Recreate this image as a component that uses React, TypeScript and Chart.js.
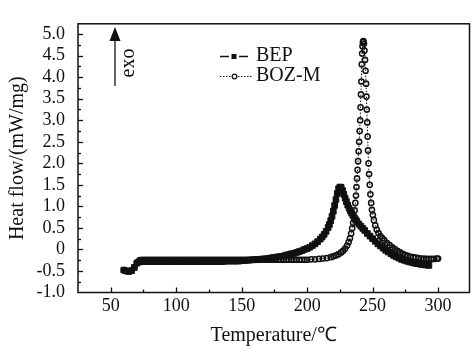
import React, { useEffect, useRef } from 'react';
import { Chart, registerables } from 'chart.js';

Chart.register(...registerables);

const SERIES_LABELS = ['BEP', 'BOZ-M'];
const X_TITLE = 'Temperature/℃';
const Y_TITLE = 'Heat flow/(mW/mg)';
const ANNOTATION = 'exo';

const X_MIN = 25;
const X_MAX = 324;
const Y_MIN = -1;
const Y_MAX = 5.24;
const X_TICKS = [50, 100, 150, 200, 250, 300];
const X_MINOR = [75, 125, 175, 225, 275];
const Y_TICKS = [-1, -0.5, 0, 0.5, 1, 1.5, 2, 2.5, 3, 3.5, 4, 4.5, 5];
const Y_MINOR = [-0.75, -0.25, 0.25, 0.75, 1.25, 1.75, 2.25, 2.75, 3.25, 3.75, 4.25, 4.75];

// [temperature (°C), heat flow (mW/mg)]
const BEP_DATA: [number, number][] = [
  [60, -0.48], [62, -0.5], [64, -0.51], [66, -0.49], [68, -0.42], [70, -0.32], [72, -0.29],
  [74, -0.28], [76, -0.28], [78, -0.28], [80, -0.28], [82, -0.28], [84, -0.28], [86, -0.28], [88, -0.28], [90, -0.28],
  [92, -0.28], [94, -0.28], [96, -0.28], [98, -0.28], [100, -0.28], [102, -0.28], [104, -0.28], [106, -0.28], [108, -0.28], [110, -0.28],
  [112, -0.28], [114, -0.28], [116, -0.28], [118, -0.28], [120, -0.28], [122, -0.28], [124, -0.28], [126, -0.28], [128, -0.28], [130, -0.28],
  [132, -0.28], [134, -0.28], [136, -0.28], [138, -0.27], [140, -0.27], [142, -0.27], [144, -0.27], [146, -0.27], [148, -0.27], [150, -0.26],
  [152, -0.26], [154, -0.25], [156, -0.25], [158, -0.24], [160, -0.24], [162, -0.23], [164, -0.23], [166, -0.22], [168, -0.22], [170, -0.21],
  [172, -0.2], [174, -0.19], [176, -0.18], [178, -0.17], [180, -0.16], [182, -0.15], [184, -0.13], [186, -0.12], [188, -0.1], [190, -0.09],
  [192, -0.07], [194, -0.05], [196, -0.03], [198, 0.0], [200, 0.02], [202, 0.05], [204, 0.09], [206, 0.13], [208, 0.18], [210, 0.24],
  [211.5, 0.29], [213, 0.35], [214.5, 0.42], [216, 0.51], [217, 0.58], [218, 0.67], [219, 0.77], [220, 0.89], [221, 1.02], [222, 1.16],
  [223, 1.3], [224, 1.41], [225, 1.45], [226, 1.44], [227, 1.37], [228, 1.28], [229, 1.19], [230, 1.11], [231, 1.03], [232, 0.96],
  [233, 0.9], [234, 0.84], [235, 0.79], [236, 0.74], [237, 0.69], [238, 0.65], [239.5, 0.59], [241, 0.54], [242.5, 0.49], [244, 0.44],
  [246, 0.37], [248, 0.31], [250, 0.25], [252, 0.19], [254, 0.13], [256, 0.08], [258, 0.03], [260, -0.02], [262, -0.06], [264, -0.1],
  [266, -0.14], [268, -0.17], [270, -0.2], [272, -0.23], [274, -0.25], [276, -0.27], [278, -0.29], [280, -0.3], [282, -0.32], [284, -0.33],
  [286, -0.34], [288, -0.35], [290, -0.36], [292, -0.36], [293, -0.37],
];

const BOZ_DATA: [number, number][] = [
  [60, -0.48], [62, -0.5], [64, -0.51], [66, -0.49], [68, -0.41], [70, -0.3], [72, -0.25],
  [74, -0.24], [76, -0.24], [78, -0.24], [80, -0.24], [82, -0.24], [84, -0.24], [86, -0.24], [88, -0.24], [90, -0.24],
  [92, -0.24], [94, -0.24], [96, -0.24], [98, -0.24], [100, -0.24], [102, -0.24], [104, -0.24], [106, -0.24], [108, -0.24], [110, -0.24],
  [112, -0.24], [114, -0.24], [116, -0.24], [118, -0.24], [120, -0.24], [122, -0.24], [124, -0.24], [126, -0.24], [128, -0.24], [130, -0.24],
  [132, -0.24], [134, -0.24], [136, -0.24], [138, -0.24], [140, -0.24], [142, -0.24], [144, -0.24], [146, -0.24], [148, -0.24], [150, -0.24],
  [152, -0.24], [154, -0.24], [156, -0.24], [158, -0.24], [160, -0.24], [162, -0.24], [164, -0.24], [166, -0.24], [168, -0.24], [170, -0.24],
  [172, -0.24], [174, -0.24], [176, -0.24], [178, -0.24], [180, -0.24], [182, -0.24], [184, -0.24], [186, -0.24], [188, -0.24], [190, -0.24],
  [192, -0.24], [194, -0.24], [196, -0.24], [198, -0.24], [200, -0.24], [203, -0.23], [206, -0.23], [209, -0.22], [212, -0.21], [215, -0.2],
  [218, -0.18], [220, -0.16], [222, -0.14], [224, -0.11], [226, -0.07], [227.5, -0.03], [229, 0.02], [230.5, 0.09], [231.7, 0.17], [232.7, 0.26],
  [233.6, 0.37], [234.4, 0.49], [235.1, 0.62], [235.7, 0.76], [236.3, 0.91], [236.8, 1.08], [237.3, 1.25], [237.7, 1.45], [238.1, 1.65], [238.5, 1.85],
  [238.9, 2.05], [239.3, 2.28], [239.7, 2.5], [240.1, 2.75], [240.5, 3.0], [240.8, 3.3], [241.1, 3.6], [241.4, 3.9], [241.7, 4.3], [242, 4.55],
  [242.3, 4.72], [242.6, 4.82], [243, 4.84], [243.4, 4.78], [243.8, 4.62], [244.2, 4.4], [244.6, 4.15], [245, 3.85], [245.3, 3.55], [245.6, 3.25],
  [245.9, 2.95], [246.2, 2.62], [246.5, 2.3], [246.9, 2.0], [247.3, 1.75], [247.8, 1.5], [248.3, 1.28], [248.9, 1.08], [249.5, 0.92], [250.2, 0.8],
  [251, 0.68], [252, 0.56], [253.2, 0.46], [254.5, 0.38], [256, 0.31], [257.5, 0.26], [259, 0.21], [261, 0.15], [263, 0.1], [265, 0.05],
  [267, 0.01], [269, -0.03], [271, -0.07], [273, -0.1], [275, -0.13], [277, -0.15], [279, -0.17], [281, -0.18], [283, -0.19], [285, -0.2],
  [287, -0.21], [289, -0.21], [291, -0.22], [293, -0.22], [295, -0.22], [297, -0.22], [299, -0.21], [300, -0.21],
];

const FONT = '"Liberation Serif", "Times New Roman", Times, serif';
const INK = '#111';

export default function App() {
  const ref = useRef<HTMLCanvasElement>(null);

  useEffect(() => {
    document.body.style.margin = '0';
    const canvas = ref.current;
    if (!canvas) return;

    const decorPlugin = {
      id: 'decor',
      afterDraw(chart: any) {
        const { ctx, chartArea: a, scales } = chart;
        const xs = scales.x;
        const ys = scales.y;
        ctx.save();
        ctx.strokeStyle = INK;
        ctx.fillStyle = INK;
        ctx.lineWidth = 1.5;
        ctx.strokeRect(a.left, a.top, a.right - a.left, a.bottom - a.top);

        ctx.lineWidth = 1.3;
        const drawX = (v: number, len: number) => {
          const px = Math.round(xs.getPixelForValue(v)) + 0.5;
          ctx.beginPath();
          ctx.moveTo(px, a.bottom);
          ctx.lineTo(px, a.bottom - len);
          ctx.stroke();
        };
        const drawY = (v: number, len: number) => {
          const py = Math.round(ys.getPixelForValue(v)) + 0.5;
          ctx.beginPath();
          ctx.moveTo(a.left, py);
          ctx.lineTo(a.left + len, py);
          ctx.stroke();
        };
        X_TICKS.forEach((v) => drawX(v, 5));
        X_MINOR.forEach((v) => drawX(v, 3));
        Y_TICKS.forEach((v) => { if (v > Y_MIN) drawY(v, 5); });
        Y_MINOR.forEach((v) => drawY(v, 3));

        // exo arrow
        ctx.lineWidth = 1.3;
        ctx.beginPath();
        ctx.moveTo(115, 86);
        ctx.lineTo(115, 38);
        ctx.stroke();
        ctx.beginPath();
        ctx.moveTo(115, 27);
        ctx.lineTo(109.5, 41);
        ctx.lineTo(120.5, 41);
        ctx.closePath();
        ctx.fill();
        ctx.save();
        ctx.translate(129, 63);
        ctx.rotate(-Math.PI / 2);
        ctx.font = `20px ${FONT}`;
        ctx.textAlign = 'center';
        ctx.textBaseline = 'middle';
        ctx.fillText(ANNOTATION, 0, 0);
        ctx.restore();

        // legend
        ctx.font = `20px ${FONT}`;
        ctx.textAlign = 'left';
        ctx.textBaseline = 'middle';
        ctx.lineWidth = 1.5;
        ctx.setLineDash([]);
        ctx.beginPath();
        ctx.moveTo(220, 56.5); ctx.lineTo(229, 56.5);
        ctx.moveTo(239, 56.5); ctx.lineTo(248, 56.5);
        ctx.stroke();
        ctx.fillRect(231.5, 54, 5, 5);
        ctx.fillText(SERIES_LABELS[0], 256, 55.5);
        ctx.lineWidth = 1;
        ctx.setLineDash([1.5, 1.5]);
        ctx.beginPath();
        ctx.moveTo(220, 76.5); ctx.lineTo(231, 76.5);
        ctx.moveTo(238, 76.5); ctx.lineTo(252, 76.5);
        ctx.stroke();
        ctx.setLineDash([]);
        ctx.lineWidth = 1.3;
        ctx.beginPath();
        ctx.arc(234.5, 76.5, 2.3, 0, Math.PI * 2);
        ctx.stroke();
        ctx.fillText(SERIES_LABELS[1], 256, 76);
        ctx.restore();
      },
    };

    const chart = new Chart(canvas, {
      type: 'line',
      data: {
        datasets: [
          {
            label: SERIES_LABELS[0],
            data: BEP_DATA.map(([x, y]) => ({ x, y })),
            borderColor: INK,
            backgroundColor: INK,
            borderWidth: 2,
            pointStyle: 'rect',
            pointRadius: 4,
            pointBorderWidth: 1,
            pointBackgroundColor: INK,
            pointBorderColor: INK,
            tension: 0,
            fill: false,
          },
          {
            label: SERIES_LABELS[1],
            data: BOZ_DATA.map(([x, y]) => ({ x, y })),
            borderColor: INK,
            backgroundColor: 'rgba(0,0,0,0)',
            borderWidth: 1,
            borderDash: [1.5, 1.5],
            pointStyle: 'circle',
            pointRadius: 2.6,
            pointBorderWidth: 1.5,
            pointBackgroundColor: 'rgba(0,0,0,0)',
            pointBorderColor: INK,
            tension: 0,
            fill: false,
          },
        ],
      },
      options: {
        responsive: false,
        animation: false,
        events: [],
        layout: { padding: { top: 10, right: 2.3, left: 0, bottom: 0 } },
        plugins: {
          legend: { display: false },
          tooltip: { enabled: false },
        },
        scales: {
          x: {
            type: 'linear',
            min: X_MIN,
            max: X_MAX,
            grid: { display: false, drawTicks: false },
            border: { display: false },
            afterBuildTicks: (s: any) => { s.ticks = X_TICKS.map((value) => ({ value })); },
            ticks: {
              color: INK,
              font: { family: FONT, size: 18 },
              padding: 3,
              maxRotation: 0,
              autoSkip: false,
              callback: (v: any) => String(v),
            },
            title: {
              display: true,
              text: X_TITLE,
              color: INK,
              font: { family: FONT, size: 20 },
              padding: { top: 0, bottom: 1 },
            },
            afterFit: (s: any) => { s.height = 56.5; },
          },
          y: {
            type: 'linear',
            min: Y_MIN,
            max: Y_MAX,
            grid: { display: false, drawTicks: false },
            border: { display: false },
            afterBuildTicks: (s: any) => { s.ticks = Y_TICKS.map((value) => ({ value })); },
            ticks: {
              color: INK,
              font: { family: FONT, size: 18 },
              padding: 13,
              autoSkip: false,
              callback: (v: any) => (Number(v) === 0 ? '0' : Number(v).toFixed(1)),
            },
            title: {
              display: true,
              text: Y_TITLE,
              color: INK,
              font: { family: FONT, size: 20 },
              padding: { top: 6, bottom: 0 },
            },
            afterFit: (s: any) => { s.width = 78; },
          },
        },
      },
      plugins: [decorPlugin],
    });

    return () => chart.destroy();
  }, []);

  return (
    <div style={{ width: 475, height: 349, background: '#fff' }}>
      <canvas ref={ref} width={475} height={349} />
    </div>
  );
}
